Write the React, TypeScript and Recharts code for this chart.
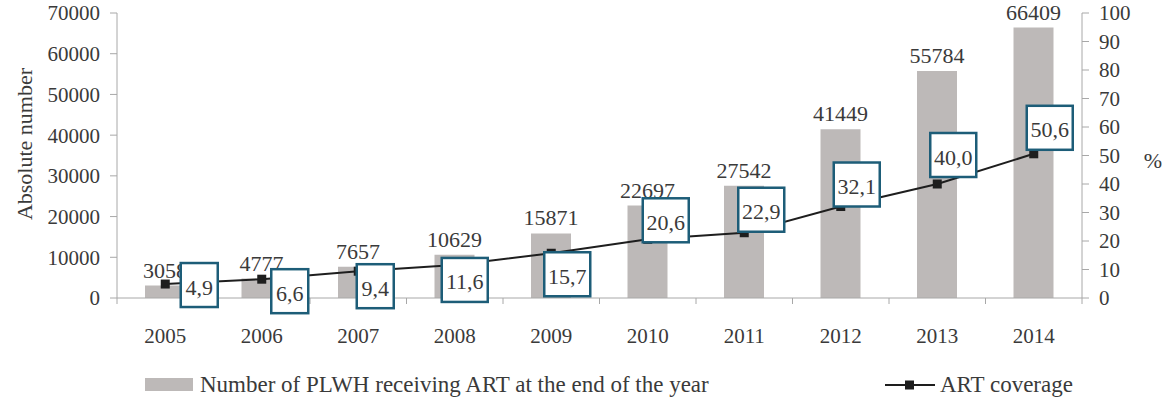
import React from "react";
import {
  ComposedChart,
  Bar,
  Line,
  XAxis,
  YAxis,
  LabelList,
  Label,
} from "recharts";

const years = ["2005", "2006", "2007", "2008", "2009", "2010", "2011", "2012", "2013", "2014"];
const plwhOnArt = [3058, 4777, 7657, 10629, 15871, 22697, 27542, 41449, 55784, 66409];
const artCoverage = [4.9, 6.6, 9.4, 11.6, 15.7, 20.6, 22.9, 32.1, 40.0, 50.6];
const countTicks = [0, 10000, 20000, 30000, 40000, 50000, 60000, 70000];
const percentTicks = [0, 10, 20, 30, 40, 50, 60, 70, 80, 90, 100];

const data = years.map((year, i) => ({
  year,
  plwh: plwhOnArt[i],
  coverage: artCoverage[i],
}));

// where each coverage box sits relative to its point (box centre)
const boxShift = [
  [34, 1], [28, 12], [17, 15], [10, 15], [16, 21],
  [18, -19], [17, -23], [16, -22], [16, -29], [16, -26],
];

const FONT = "'Liberation Serif', 'Times New Roman', serif";
const TEXT = "#3a3a3a";
const AXIS = "#a8a8a8";
const BAR = "#bdb9b8";
const BOX = "#1d5d78";

const fmt = (v: number) => v.toFixed(1).replace(".", ",");

const CoverageBox = (props: any) => {
  const { x, y, value, index } = props;
  const text = fmt(Number(value));
  const w = text.length * 9 + 10;
  const h = 44;
  const [dx, dy] = boxShift[index] || [16, -22];
  const cx = x + dx;
  const cy = y + dy;
  return (
    <g>
      <rect
        x={cx - w / 2}
        y={cy - h / 2}
        width={w}
        height={h}
        fill="#fff"
        stroke={BOX}
        strokeWidth={2.5}
      />
      <text
        x={cx}
        y={cy + 2}
        textAnchor="middle"
        dominantBaseline="central"
        fontFamily={FONT}
        fontSize={22}
        fill={TEXT}
      >
        {text}
      </text>
    </g>
  );
};

const SquareDot = (props: any) => {
  const { cx, cy, index } = props;
  if (cx == null || cy == null) return null;
  return <rect key={`dot-${index}`} x={cx - 4.5} y={cy - 4.5} width={9} height={9} fill="#1e1e1e" />;
};

const YearTick = (props: any) => {
  const { x, y, payload, width, visibleTicksCount, index } = props;
  const band = width && visibleTicksCount ? width / visibleTicksCount : 96.5;
  const left = x - band / 2;
  return (
    <g>
      <line x1={left} y1={y} x2={left} y2={y + 6} stroke={AXIS} />
      {index === visibleTicksCount - 1 && (
        <line x1={left + band} y1={y} x2={left + band} y2={y + 6} stroke={AXIS} />
      )}
      <text x={x} y={y + 45} textAnchor="middle" fontFamily={FONT} fontSize={21} fill={TEXT}>
        {payload.value}
      </text>
    </g>
  );
};

export default function App() {
  return (
    <div style={{ position: "relative", width: 1166, height: 402, background: "#fff" }}>
      <style>{"body{margin:0}"}</style>
      <ComposedChart
        width={1166}
        height={360}
        data={data}
        margin={{ top: 13, right: 0, left: 0, bottom: 0 }}
      >
        <XAxis
          dataKey="year"
          height={62}
          stroke={AXIS}
          tickLine={false}
          tickSize={0}
          tickMargin={0}
          tick={<YearTick />}
          interval={0}
        />
        <YAxis
          yAxisId="left"
          width={117}
          domain={[0, 70000]}
          ticks={countTicks}
          interval={0}
          stroke={AXIS}
          tickSize={7}
          tickMargin={10}
          tick={{ fontFamily: FONT, fontSize: 21, fill: TEXT }}
        >
          <Label
            content={() => (
              <text
                x={24}
                y={144}
                transform="rotate(-90, 24, 144)"
                textAnchor="middle"
                dominantBaseline="central"
                fontFamily={FONT}
                fontSize={22}
                fill={TEXT}
              >
                Absolute number
              </text>
            )}
          />
        </YAxis>
        <YAxis
          yAxisId="right"
          orientation="right"
          width={84}
          domain={[0, 100]}
          ticks={percentTicks}
          interval={0}
          stroke={AXIS}
          tickSize={7}
          tickMargin={10}
          tick={{ fontFamily: FONT, fontSize: 21, fill: TEXT, textAnchor: "start" }}
        >
          <Label
            content={() => (
              <text
                x={1153}
                y={160}
                textAnchor="middle"
                dominantBaseline="central"
                fontFamily={FONT}
                fontSize={22}
                fill={TEXT}
              >
                %
              </text>
            )}
          />
        </YAxis>
        <Bar yAxisId="left" dataKey="plwh" fill={BAR} barSize={40} isAnimationActive={false}>
          <LabelList
            dataKey="plwh"
            position="top"
            offset={8}
            style={{ fontFamily: FONT, fontSize: 22, fill: TEXT }}
          />
        </Bar>
        <Line
          yAxisId="right"
          dataKey="coverage"
          stroke="#1e1e1e"
          strokeWidth={2}
          dot={<SquareDot />}
          activeDot={false}
          isAnimationActive={false}
        >
          <LabelList dataKey="coverage" content={<CoverageBox />} />
        </Line>
      </ComposedChart>

      {/* legend */}
      <div
        style={{
          position: "absolute",
          top: 372,
          left: 0,
          width: 1166,
          height: 26,
          fontFamily: FONT,
          fontSize: 23,
          color: TEXT,
        }}
      >
        <div style={{ position: "absolute", left: 145, top: 6, width: 48, height: 13, background: BAR }} />
        <div style={{ position: "absolute", left: 200, top: 0, lineHeight: "26px", whiteSpace: "nowrap" }}>
          Number of PLWH receiving ART at the end of the year
        </div>
        <svg style={{ position: "absolute", left: 885, top: 0 }} width={52} height={26}>
          <line x1={0} y1={13} x2={50} y2={13} stroke="#1e1e1e" strokeWidth={2} />
          <rect x={20} y={8.5} width={9} height={9} fill="#1e1e1e" />
        </svg>
        <div style={{ position: "absolute", left: 940, top: 0, lineHeight: "26px", whiteSpace: "nowrap" }}>
          ART coverage
        </div>
      </div>
    </div>
  );
}
